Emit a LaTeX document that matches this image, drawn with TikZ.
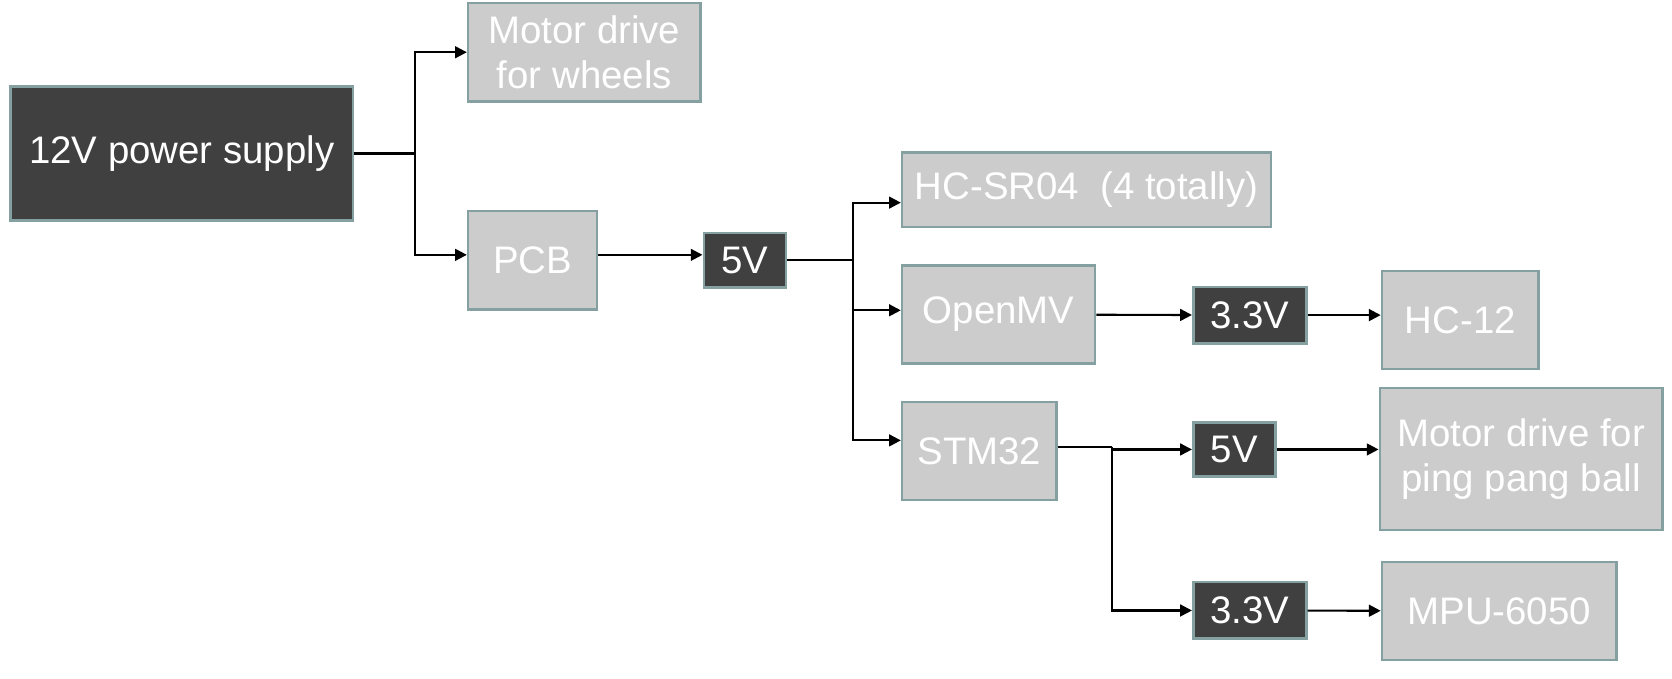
\documentclass[tikz,border=0pt]{standalone}
\usepackage{fontspec}
\setmainfont{Liberation Sans}
\usepackage{tikz}
\usepackage{xcolor}
\usetikzlibrary{positioning, arrows.meta}

\definecolor{darkfill}{RGB}{64,64,64}
\definecolor{lightfill}{RGB}{204,204,204}
\definecolor{edgegray}{RGB}{133,160,160}

\begin{document}
\begin{tikzpicture}[x=0.5pt, y=-0.5pt,
        box/.style={draw=edgegray, line width=1.2pt, inner sep=0pt, text=white, align=center,
            font=\fontsize{18pt}{21pt}\selectfont},
        darkbox/.style={box, fill=darkfill},
        lightbox/.style={box, fill=lightfill},
        wire/.style={line width=1pt},
        >={Triangle[length=5.5pt, width=5.5pt]}]
            \useasboundingbox (0,0) rectangle (1568,636);

            \node[darkbox, minimum width=160.5pt, minimum height=63pt] (ps) at (170.5,144) {12V power supply};
            \node[lightbox, minimum width=109pt, minimum height=46pt] (mw) at (548,49) {Motor drive\\for wheels};
            \node[lightbox, minimum width=60.5pt, minimum height=46pt] (pcb) at (499.5,244) {PCB};
            \node[darkbox, minimum width=38.5pt, minimum height=25.5pt] (v5a) at (698.5,244) {5V};
            \node[lightbox, minimum width=173pt, minimum height=35pt] (hc) at (1019,178) {HC-SR04\ \ (4 totally)};
            \node[lightbox, minimum width=90.5pt, minimum height=46pt] (omv) at (936.5,295) {OpenMV};
            \node[darkbox, minimum width=53pt, minimum height=26.5pt] (v33a) at (1172,295.5) {3.3V};
            \node[lightbox, minimum width=73.5pt, minimum height=46pt] (hc12) at (1369.5,300) {HC-12};
            \node[lightbox, minimum width=72.5pt, minimum height=46pt] (stm) at (918.5,423) {STM32};
            \node[darkbox, minimum width=38.5pt, minimum height=25.5pt] (v5b) at (1157.5,421.5) {5V};
            \node[lightbox, minimum width=132.5pt, minimum height=66.5pt] (mp) at (1426.5,430.5) {Motor drive for\\ping pang ball};
            \node[darkbox, minimum width=53pt, minimum height=26.5pt] (v33b) at (1172,572.5) {3.3V};
            \node[lightbox, minimum width=110pt, minimum height=46pt] (mpu) at (1406,573) {MPU-6050};

            \coordinate (b1) at (389,144);
            \coordinate (b2) at (800,244);
            \coordinate (b3) at (1043,419);

            \draw[wire] (ps) -- (b1);
            \draw[wire, ->] (b1) |- (mw);
            \draw[wire, ->] (b1) |- ([yshift=2.5pt]pcb.west);
            \draw[wire, ->] ([yshift=2.5pt]pcb.east) -- ([yshift=2.5pt]pcb.east -| v5a.west);
            \draw[wire] (v5a) -- (b2);
            \draw[wire, ->] (b2) |- ([yshift=-6pt]hc.west);
            \draw[wire, ->] (b2) |- ([yshift=2pt]omv.west);
            \draw[wire, ->] (b2) |- ([yshift=5pt]stm.west);
            \draw[wire, ->] (omv) -- (v33a);
            \draw[wire, ->] (v33a.east) -- (v33a.east -| hc12.west);
            \draw[wire] (stm.east |- b3) -- (b3);
            \draw[wire, ->] (b3) |- (v5b);
            \draw[wire, ->] (v5b.east) -- (v5b.east -| mp.west);
            \draw[wire, ->] (b3) |- (v33b);
            \draw[wire, ->] (v33b) -- (mpu);
        \end{tikzpicture}
\end{document}
